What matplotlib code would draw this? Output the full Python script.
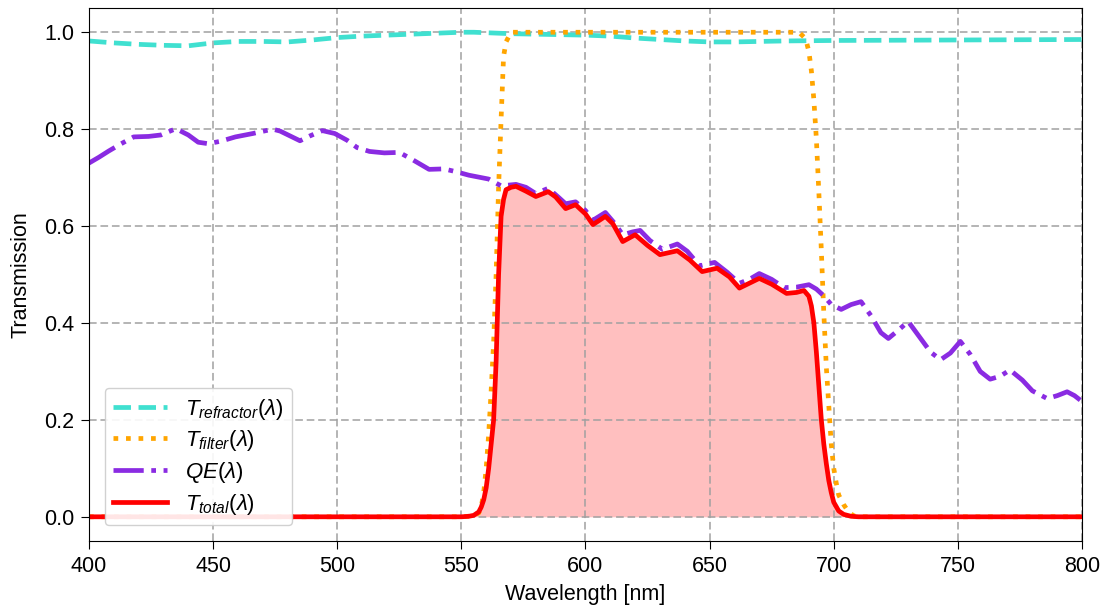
"""
Courbes de transmission : réfracteur, filtre, QE du capteur et transmission totale.
"""

import matplotlib
matplotlib.use("Agg")
import matplotlib.pyplot as plt

# ── Données ────────────────────────────────────────────────────────────
wl_ref = [400, 410, 420, 430, 440, 445, 450, 460, 470, 480, 490, 500, 510, 520,
          530, 540, 550, 555, 560, 570, 580, 590, 600, 610, 620, 630, 640, 650,
          660, 670, 680, 700, 750, 800]
t_ref = [0.982, 0.978, 0.975, 0.973, 0.972, 0.975, 0.978, 0.981, 0.981, 0.980,
         0.984, 0.989, 0.992, 0.994, 0.996, 0.998, 1.000, 1.000, 0.999, 0.997,
         0.996, 0.995, 0.994, 0.992, 0.988, 0.985, 0.982, 0.980, 0.980, 0.981,
         0.982, 0.983, 0.984, 0.985]

wl_filter = [400, 550, 555, 557, 558, 559, 560, 561, 562, 563, 564, 565, 566, 567,
             568, 569, 570, 686, 688, 689, 690, 691, 692, 693, 694, 695, 696, 697,
             698, 699, 700, 701, 702, 704, 706, 708, 710, 800]
t_filter = [0, 0, 0.002, 0.008, 0.02, 0.05, 0.10, 0.17, 0.26, 0.36, 0.50, 0.68,
            0.82, 0.95, 0.98, 0.99, 1.0, 1.0, 0.99, 0.98, 0.96, 0.92, 0.86, 0.78,
            0.67, 0.55, 0.42, 0.31, 0.23, 0.15, 0.10, 0.07, 0.045, 0.025, 0.01,
            0.002, 0, 0]

wl_qe = [400, 404, 408, 413, 418, 424, 429, 435, 440, 444, 448, 453, 459, 466,
         474, 477, 481, 485, 489, 494, 499, 504, 508, 513, 519, 525, 530, 537,
         543, 548, 553, 558, 561, 566, 572, 576, 580, 585, 589, 592, 596, 600,
         603, 608, 612, 615, 619, 622, 626, 631, 637, 641, 646, 652, 657, 662,
         666, 670, 675, 680, 685, 690, 693, 696, 699, 703, 707, 711, 715, 719,
         722, 726, 730, 735, 739, 743, 747, 751, 755, 759, 763, 767, 771, 776,
         780, 786, 790, 794, 797, 800]
qe = [0.730, 0.742, 0.755, 0.770, 0.784, 0.785, 0.788, 0.801, 0.788, 0.773,
      0.770, 0.775, 0.784, 0.791, 0.800, 0.796, 0.786, 0.776, 0.786, 0.797,
      0.791, 0.777, 0.762, 0.754, 0.751, 0.752, 0.738, 0.717, 0.718, 0.712,
      0.705, 0.700, 0.697, 0.683, 0.686, 0.680, 0.667, 0.678, 0.660, 0.646,
      0.650, 0.632, 0.612, 0.628, 0.604, 0.582, 0.588, 0.591, 0.570, 0.552,
      0.563, 0.548, 0.518, 0.525, 0.505, 0.482, 0.490, 0.502, 0.490, 0.473,
      0.474, 0.479, 0.470, 0.456, 0.438, 0.428, 0.438, 0.444, 0.415, 0.380,
      0.368, 0.385, 0.403, 0.368, 0.340, 0.324, 0.338, 0.362, 0.335, 0.300,
      0.284, 0.290, 0.303, 0.282, 0.260, 0.244, 0.250, 0.258, 0.250, 0.238]

wl_total = [400, 550, 553, 555, 557, 558, 559, 560, 561, 562, 563, 564, 565, 566,
            567, 568, 570, 572, 576, 580, 585, 588, 592, 596, 600, 603, 608, 611,
            615, 620, 625, 630, 637, 642, 647, 653, 658, 662, 666, 670, 675, 681,
            685, 688, 690, 691, 692, 693, 694, 695, 696, 697, 698, 699, 700, 702,
            704, 707, 710, 800]
t_total = [0, 0, 0.001, 0.003, 0.01, 0.02, 0.035, 0.06, 0.10, 0.15, 0.20, 0.32,
           0.50, 0.62, 0.655, 0.675, 0.680, 0.682, 0.672, 0.661, 0.671, 0.660,
           0.636, 0.644, 0.625, 0.603, 0.620, 0.605, 0.568, 0.582, 0.560, 0.541,
           0.549, 0.530, 0.506, 0.513, 0.495, 0.472, 0.482, 0.492, 0.480, 0.461,
           0.463, 0.467, 0.455, 0.435, 0.40, 0.34, 0.27, 0.20, 0.15, 0.11, 0.075,
           0.05, 0.03, 0.012, 0.005, 0.001, 0, 0]

# ── Style ──────────────────────────────────────────────────────────────
plt.rcParams["font.family"] = ["Liberation Sans", "DejaVu Sans"]
plt.rcParams["mathtext.fontset"] = "custom"
plt.rcParams["mathtext.rm"] = "Liberation Sans"
plt.rcParams["mathtext.it"] = "Liberation Sans:italic"

fig = plt.figure(figsize=(11.15, 6.07), dpi=100)
ax = fig.add_axes([0.0798, 0.1087, 0.8906, 0.8781])

lw = 3.4
ax.plot(wl_ref, t_ref, color="#40E0D0", linestyle="--", linewidth=lw,
        label=r"$T_{refractor}(\lambda)$")
ax.plot(wl_filter, t_filter, color="#FFA500", linestyle=":", linewidth=lw,
        label=r"$T_{filter}(\lambda)$")
ax.plot(wl_qe, qe, color="#8A2BE2", linestyle="-.", linewidth=lw,
        label=r"$QE(\lambda)$")
ax.plot(wl_total, t_total, color="red", linestyle="-", linewidth=lw,
        label=r"$T_{total}(\lambda)$")
ax.fill_between(wl_total, t_total, color="red", alpha=0.25, linewidth=0)

ax.set_xlim(400, 800)
ax.set_ylim(-0.05, 1.05)
ax.set_xticks(range(400, 801, 50))
ax.set_yticks([0.0, 0.2, 0.4, 0.6, 0.8, 1.0])
ax.tick_params(labelsize=15.5, length=5.5, pad=5)
ax.set_xlabel("Wavelength [nm]", fontsize=15.5, labelpad=5)
ax.set_ylabel("Transmission", fontsize=15.5, labelpad=9)
ax.grid(True, color="#a0a0a0", linestyle=(0, (5, 2.5)), linewidth=1.1)

ax.legend(loc="lower left", fontsize=16, handlelength=2.4, framealpha=0.9,
          edgecolor="#cccccc", borderaxespad=0.7, labelspacing=0.3)

fig.savefig("out.png", dpi=100)
plt.close()
